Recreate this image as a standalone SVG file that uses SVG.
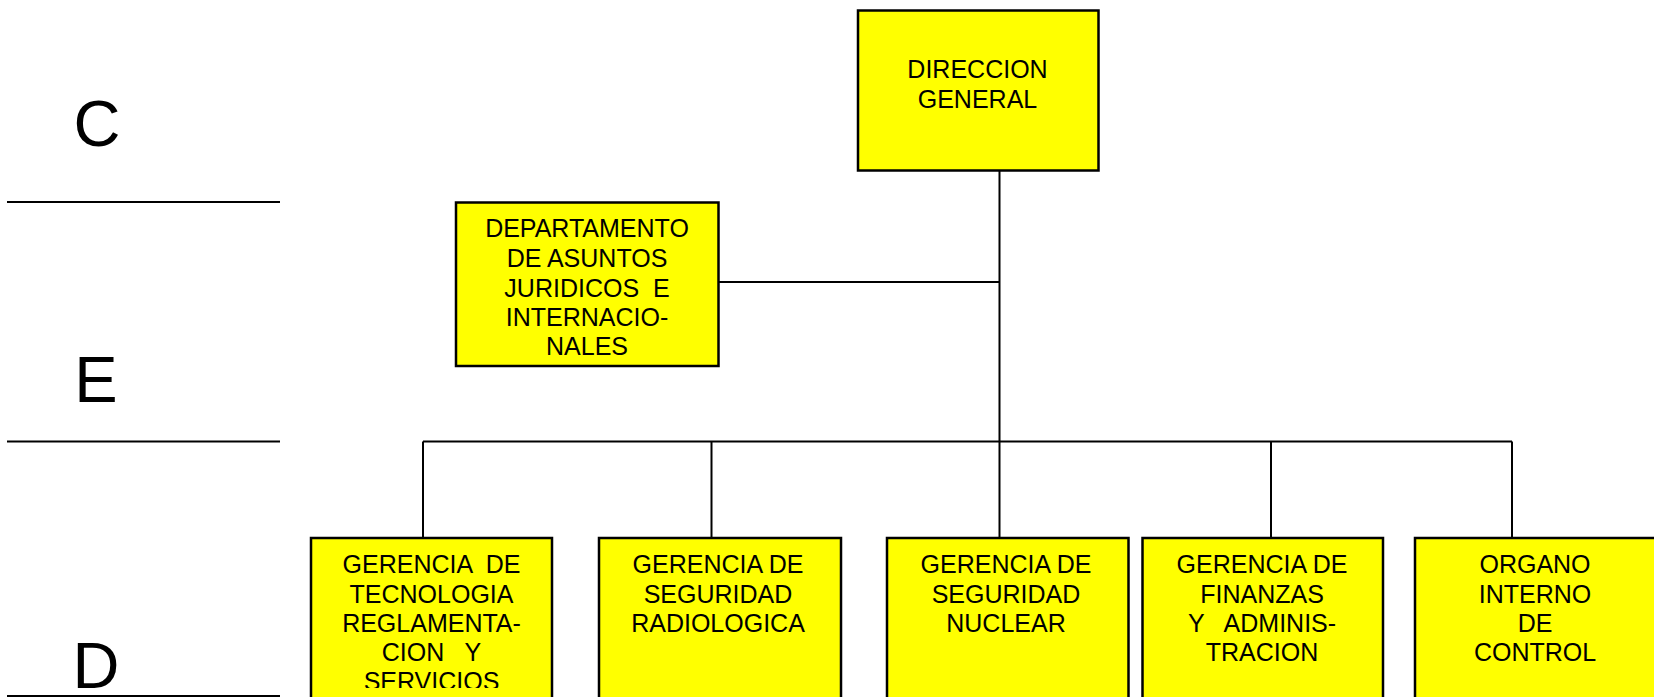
<svg xmlns="http://www.w3.org/2000/svg" width="1654" height="697" viewBox="0 0 1654 697">
<style>
.box{fill:#ffff00;stroke:#000;stroke-width:2.5}
.t{font-family:"Liberation Sans",Arial,sans-serif;font-size:25px;fill:#000;text-anchor:middle;white-space:pre}
.lvl{font-family:"Liberation Sans",Arial,sans-serif;font-size:65px;fill:#000;text-anchor:middle}
.ln{stroke:#000;stroke-width:2;fill:none}
</style>
<defs>
<clipPath id="clipB1"><rect x="311" y="538" width="241" height="150"/></clipPath>
</defs>
<rect width="1654" height="697" fill="#fff"/>
<g id="levels">
<text class="lvl" x="97" y="146">C</text>
<line class="ln" x1="7" y1="202" x2="280" y2="202"/>
<text class="lvl" x="96" y="402">E</text>
<line class="ln" x1="7" y1="441.5" x2="280" y2="441.5"/>
<text class="lvl" x="96" y="688">D</text>
<line class="ln" x1="7" y1="696" x2="280" y2="696"/>
</g>
<g id="connectors">
<line class="ln" x1="999.5" y1="170" x2="999.5" y2="441.5"/>
<line class="ln" x1="718" y1="282" x2="999.5" y2="282"/>
<line class="ln" x1="423" y1="441.5" x2="1512" y2="441.5"/>
<line class="ln" x1="423" y1="441.5" x2="423" y2="538"/>
<line class="ln" x1="711.5" y1="441.5" x2="711.5" y2="538"/>
<line class="ln" x1="999.5" y1="441.5" x2="999.5" y2="538"/>
<line class="ln" x1="1271" y1="441.5" x2="1271" y2="538"/>
<line class="ln" x1="1512" y1="441.5" x2="1512" y2="538"/>
</g>
<g id="direccion">
<rect class="box" x="858" y="10.5" width="240.5" height="160"/>
<text class="t" x="977.5" y="78">DIRECCION</text>
<text class="t" x="977.5" y="108">GENERAL</text>
</g>
<g id="juridicos">
<rect class="box" x="456" y="202.5" width="262.5" height="163.5"/>
<text class="t" x="587" y="237">DEPARTAMENTO</text>
<text class="t" x="587" y="267">DE ASUNTOS</text>
<text class="t" x="587" y="297">JURIDICOS  E</text>
<text class="t" x="587" y="326">INTERNACIO-</text>
<text class="t" x="587" y="355">NALES</text>
</g>
<g id="tecnologia">
<rect class="box" x="311" y="538" width="241" height="162"/>
<g clip-path="url(#clipB1)">
<text class="t" x="431.5" y="573">GERENCIA  DE</text>
<text class="t" x="431.5" y="603">TECNOLOGIA</text>
<text class="t" x="431.5" y="632">REGLAMENTA-</text>
<text class="t" x="431.5" y="661">CION   Y</text>
<text class="t" x="431.5" y="690">SERVICIOS</text>
</g>
</g>
<g id="radiologica">
<rect class="box" x="599" y="538" width="242" height="162"/>
<text class="t" x="718" y="573">GERENCIA DE</text>
<text class="t" x="718" y="603">SEGURIDAD</text>
<text class="t" x="718" y="632">RADIOLOGICA</text>
</g>
<g id="nuclear">
<rect class="box" x="887" y="538" width="241.5" height="162"/>
<text class="t" x="1006" y="573">GERENCIA DE</text>
<text class="t" x="1006" y="603">SEGURIDAD</text>
<text class="t" x="1006" y="632">NUCLEAR</text>
</g>
<g id="finanzas">
<rect class="box" x="1142.5" y="538" width="240.5" height="162"/>
<text class="t" x="1262" y="573">GERENCIA DE</text>
<text class="t" x="1262" y="603">FINANZAS</text>
<text class="t" x="1262" y="632">Y   ADMINIS-</text>
<text class="t" x="1262" y="661">TRACION</text>
</g>
<g id="control">
<rect class="box" x="1415" y="538" width="250" height="162"/>
<text class="t" x="1535" y="573">ORGANO</text>
<text class="t" x="1535" y="603">INTERNO</text>
<text class="t" x="1535" y="632">DE</text>
<text class="t" x="1535" y="661">CONTROL</text>
</g>
</svg>
